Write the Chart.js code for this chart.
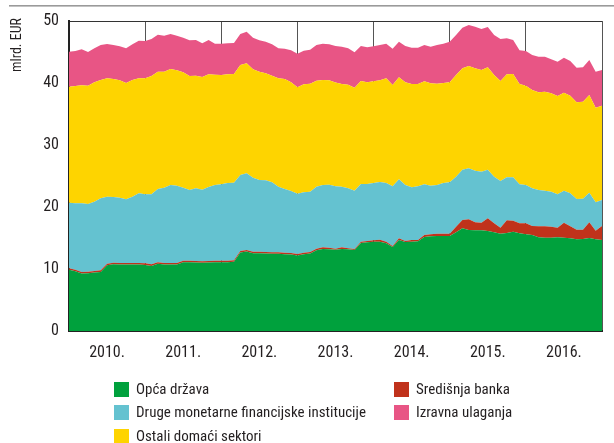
<!DOCTYPE html>
<html>
<head>
<meta charset="utf-8">
<script src="https://cdn.jsdelivr.net/npm/chart.js@4/dist/chart.umd.min.js"></script>
<style>
  html, body { margin: 0; padding: 0; background: #fff; }
  #wrap { position: relative; width: 614px; height: 443px; overflow: hidden; }
  #chart { position: absolute; left: 0; top: 0; }
  .legend-item { position: absolute; height: 16px; display: flex; align-items: center;
    font-family: "Roboto Condensed", "DejaVu Sans Condensed", sans-serif;
    font-size: 15px; color: #231f20; white-space: nowrap; }
  .legend-item .sw { width: 15px; height: 15px; margin-right: 7px; flex: none; }
</style>
</head>
<body>
<div id="wrap">
  <canvas id="chart" width="614" height="443"></canvas>
  <div id="legend"></div>
</div>
<script>
// Monthly stocks, billion EUR, January 2010 – January 2017 (85 months)
const years = ['2010.', '2011.', '2012.', '2013.', '2014.', '2015.', '2016.'];
const unitLabel = 'mlrd. EUR';

const opcaDrzava = [
  9.86, 9.64, 9.27, 9.32, 9.43, 9.53, 10.61, 10.77, 10.72, 10.72, 10.72, 10.72,
  10.66, 10.50, 10.83, 10.72, 10.72, 10.72, 11.09, 11.09, 11.04, 10.99, 11.04, 11.09,
  11.09, 11.09, 11.15, 12.65, 12.81, 12.55, 12.55, 12.49, 12.44, 12.44, 12.38, 12.33,
  12.17, 12.38, 12.49, 13.03, 13.24, 13.19, 13.10, 13.23, 13.17, 13.06, 14.19, 14.30,
  14.41, 14.41, 14.14, 13.55, 14.68, 14.35, 14.41, 14.46, 15.16, 15.27, 15.32, 15.32,
  15.32, 15.91, 16.56, 16.29, 16.24, 16.24, 16.13, 15.91, 15.70, 15.81, 16.02, 15.75,
  15.59, 15.48, 15.11, 15.05, 15.05, 15.11, 15.05, 14.95, 14.78, 14.84, 15.00, 14.78,
  14.68
];
const sredisnjaBanka = [
  0.25, 0.25, 0.25, 0.25, 0.25, 0.25, 0.25, 0.25, 0.25, 0.25, 0.25, 0.25,
  0.25, 0.25, 0.25, 0.25, 0.25, 0.25, 0.25, 0.25, 0.25, 0.25, 0.25, 0.25,
  0.25, 0.25, 0.25, 0.25, 0.25, 0.25, 0.25, 0.25, 0.25, 0.25, 0.25, 0.25,
  0.25, 0.25, 0.25, 0.25, 0.25, 0.25, 0.18, 0.26, 0.16, 0.17, 0.22, 0.22,
  0.21, 0.32, 0.27, 0.16, 0.27, 0.17, 0.27, 0.22, 0.32, 0.32, 0.38, 0.38,
  0.38, 0.92, 1.34, 1.72, 1.29, 1.23, 2.04, 1.46, 0.97, 2.04, 1.78, 1.62,
  1.78, 1.46, 1.77, 1.83, 1.78, 1.56, 2.42, 1.93, 1.56, 1.50, 2.53, 1.40,
  2.26
];
const drugeMfi = [
  10.59, 10.70, 11.07, 10.91, 11.18, 11.62, 10.81, 10.59, 10.54, 10.27, 10.70, 11.23,
  11.13, 11.29, 11.82, 12.15, 12.58, 12.47, 11.78, 11.40, 11.72, 11.56, 11.94, 12.21,
  12.32, 12.53, 12.52, 12.26, 12.37, 11.93, 11.55, 11.56, 11.29, 10.59, 10.27, 10.00,
  9.73, 9.74, 9.73, 10.00, 10.06, 10.16, 10.07, 9.79, 9.68, 9.40, 9.30, 9.19,
  9.25, 9.30, 9.46, 9.62, 9.51, 9.03, 8.49, 8.65, 8.18, 7.85, 7.85, 8.17,
  8.28, 8.06, 8.12, 8.23, 8.33, 8.23, 7.85, 7.52, 7.52, 6.93, 6.98, 6.29,
  6.18, 6.07, 5.86, 5.75, 5.64, 5.37, 5.16, 5.32, 4.95, 5.00, 4.78, 4.57,
  4.19
];
const ostaliSektori = [
  18.71, 18.93, 19.03, 19.09, 19.25, 19.08, 19.08, 19.04, 18.92, 18.76, 18.81, 18.55,
  18.71, 19.09, 18.93, 18.71, 18.71, 18.60, 18.60, 18.39, 18.17, 18.17, 18.17, 17.79,
  17.63, 17.53, 17.53, 17.74, 17.74, 17.47, 17.48, 17.26, 17.20, 17.47, 17.75, 17.53,
  17.15, 17.41, 17.42, 17.10, 16.93, 16.83, 16.75, 16.56, 16.72, 16.62, 16.61, 16.40,
  16.40, 16.40, 16.88, 16.35, 16.45, 16.56, 16.67, 16.51, 16.61, 16.51, 16.34, 16.13,
  16.13, 16.40, 16.35, 16.50, 16.51, 16.40, 16.51, 16.40, 16.13, 16.62, 16.67, 16.18,
  16.02, 15.86, 15.75, 15.97, 15.86, 15.86, 15.81, 15.76, 15.59, 15.65, 15.75, 15.27,
  15.21
];
const izravnaUlaganja = [
  5.64, 5.64, 5.81, 5.43, 5.48, 5.65, 5.54, 5.48, 5.48, 5.59, 5.76, 6.08,
  6.02, 5.97, 5.97, 5.80, 5.64, 5.59, 5.59, 5.75, 5.76, 5.43, 5.54, 5.00,
  5.05, 5.00, 5.00, 5.00, 5.11, 5.11, 5.05, 5.11, 5.06, 4.84, 4.89, 5.16,
  5.43, 5.44, 5.49, 5.75, 5.86, 5.81, 5.85, 6.02, 5.86, 5.70, 5.65, 5.64,
  5.64, 5.70, 5.59, 5.86, 5.76, 5.86, 5.86, 5.86, 5.86, 5.91, 6.24, 6.34,
  6.56, 6.45, 6.55, 6.61, 6.72, 6.61, 6.50, 6.45, 6.78, 5.80, 5.49, 5.43,
  5.59, 5.65, 5.76, 5.65, 5.49, 5.54, 5.65, 5.59, 5.59, 5.54, 5.65, 5.81,
  5.76
];

const FONT = '"Roboto Condensed", "DejaVu Sans Condensed", sans-serif';
const TEXT = '#231f20';

// stacked bottom-to-top order
const series = [
  { label: 'Opća država', data: opcaDrzava, color: '#00a13d' },
  { label: 'Središnja banka', data: sredisnjaBanka, color: '#c0321b' },
  { label: 'Druge monetarne financijske institucije', data: drugeMfi, color: '#64c2d0' },
  { label: 'Ostali domaći sektori', data: ostaliSektori, color: '#fed400' },
  { label: 'Izravna ulaganja', data: izravnaUlaganja, color: '#e85585' }
];

const datasets = series.map((s, k) => ({
  label: s.label,
  data: s.data.map((v, i) => ({ x: i, y: v })),
  backgroundColor: s.color,
  borderWidth: 0,
  pointRadius: 0,
  tension: 0,
  fill: k === 0 ? 'origin' : '-1'
}));

// decorative rule along the top and the rotated unit label
const framePlugin = {
  id: 'frame',
  afterDraw(chart) {
    const ctx = chart.ctx;
    ctx.save();
    ctx.fillStyle = '#9a9a9a';
    ctx.fillRect(9, 5, 614 - 9, 1.6);
    ctx.translate(20.5, 45);
    ctx.rotate(-Math.PI / 2);
    ctx.fillStyle = TEXT;
    ctx.font = '14px ' + FONT;
    ctx.textAlign = 'center';
    ctx.textBaseline = 'alphabetic';
    ctx.fillText(unitLabel, 0, 0);
    ctx.restore();
  }
};

new Chart(document.getElementById('chart'), {
  type: 'line',
  data: { datasets },
  options: {
    responsive: false,
    animation: false,
    layout: { padding: { top: 21, right: 0, bottom: 72, left: 0 } },
    plugins: { legend: { display: false }, tooltip: { enabled: false } },
    scales: {
      x: {
        type: 'linear',
        min: 0,
        max: 84,
        afterBuildTicks(scale) {
          const t = [];
          for (let v = 0; v <= 84; v += 6) t.push({ value: v });
          scale.ticks = t;
        },
        afterFit(scale) { scale.height = 40; },
        grid: {
          drawTicks: false,
          lineWidth: 1,
          color: c => (c.tick && c.tick.value % 12 === 0) ? '#555' : 'rgba(0,0,0,0)'
        },
        border: { display: true, color: '#222', width: 2 },
        ticks: {
          autoSkip: false,
          maxRotation: 0,
          padding: 12,
          color: TEXT,
          font: { family: FONT, size: 16 },
          callback: v => (v % 12 === 6) ? years[(v - 6) / 12] : ''
        }
      },
      y: {
        stacked: true,
        min: 0,
        max: 50,
        afterFit(scale) { scale.width = 69; },
        grid: {
          drawTicks: false,
          lineWidth: 1,
          color: c => (c.tick && c.tick.value === 50) ? '#333' : 'rgba(0,0,0,0)'
        },
        border: { display: true, color: '#222', width: 2 },
        ticks: {
          stepSize: 10,
          padding: 10,
          color: TEXT,
          font: { family: FONT, size: 16 }
        }
      }
    }
  },
  plugins: [framePlugin]
});

// legend laid out in two columns
const legendLayout = [
  { s: 0, left: 114, top: 381 },
  { s: 2, left: 114, top: 404 },
  { s: 3, left: 114, top: 428 },
  { s: 1, left: 394, top: 381 },
  { s: 4, left: 394, top: 404 }
];
const legend = document.getElementById('legend');
legendLayout.forEach(p => {
  const item = document.createElement('div');
  item.className = 'legend-item';
  item.style.left = p.left + 'px';
  item.style.top = p.top + 'px';
  const sw = document.createElement('span');
  sw.className = 'sw';
  sw.style.background = series[p.s].color;
  const tx = document.createElement('span');
  tx.textContent = series[p.s].label;
  item.appendChild(sw);
  item.appendChild(tx);
  legend.appendChild(item);
});
</script>
</body>
</html>
